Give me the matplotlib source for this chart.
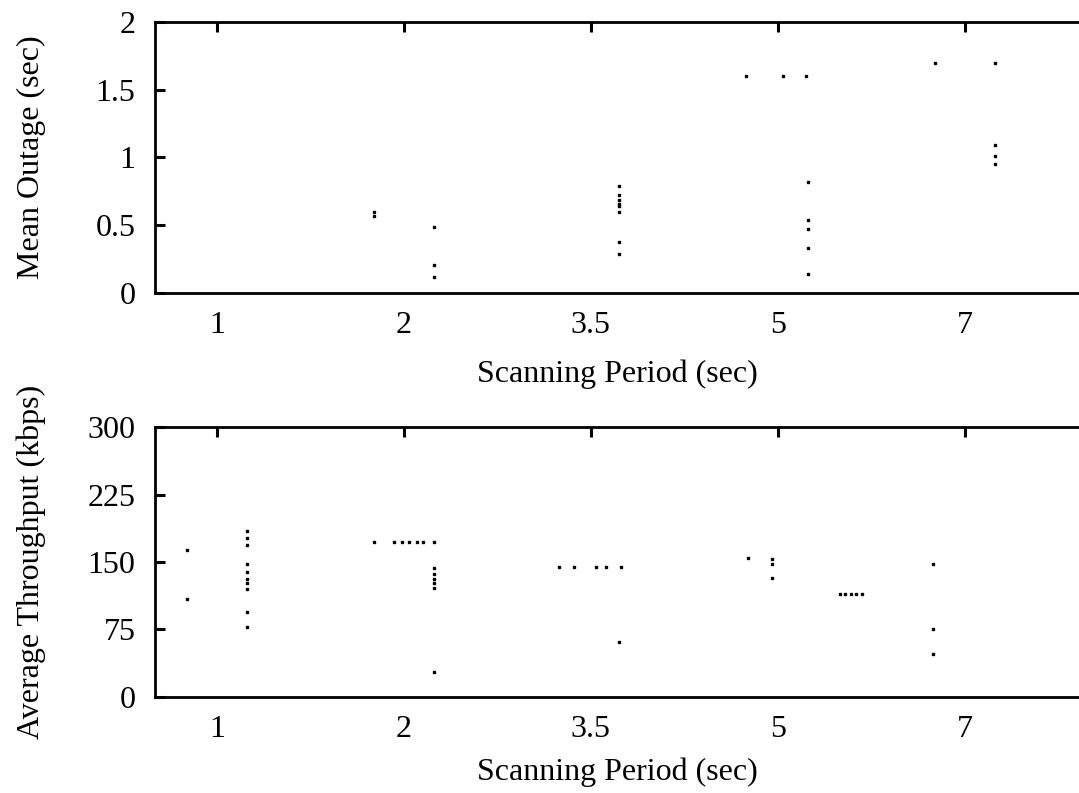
import matplotlib
matplotlib.use("Agg")
import matplotlib.pyplot as plt

plt.rcParams['font.family'] = ['Liberation Serif', 'DejaVu Serif']

# category labels on the x axis
periods = ['1', '2', '3.5', '5', '7']

# top panel: mean outage points (x in category units, y in sec)
outage_x = [0.84, 0.84, 1.16, 1.16, 1.16,
            2.15, 2.15, 2.15, 2.15, 2.15, 2.15, 2.15, 2.15,
            2.83, 3.03, 3.15,
            3.16, 3.16, 3.16, 3.16, 3.16,
            3.84, 4.16, 4.16, 4.16, 4.16]
outage_y = [0.60, 0.57, 0.49, 0.21, 0.12,
            0.79, 0.72, 0.69, 0.66, 0.64, 0.60, 0.38, 0.29,
            1.60, 1.60, 1.60,
            0.82, 0.54, 0.47, 0.33, 0.14,
            1.70, 1.70, 1.09, 1.01, 0.95]

# bottom panel: average throughput points (kbps)
thr_x = [-0.16, -0.16,
         0.16, 0.16, 0.16, 0.16, 0.16, 0.16, 0.16, 0.16, 0.16, 0.16,
         0.84, 0.95, 0.99, 1.03, 1.07, 1.10, 1.16,
         1.16, 1.16, 1.16, 1.16, 1.16, 1.16,
         1.83, 1.91, 2.03, 2.08, 2.16, 2.15,
         2.84, 2.97, 2.97, 2.97,
         3.33, 3.36, 3.39, 3.42, 3.45,
         3.83, 3.83, 3.83]
thr_y = [163, 109,
         184, 177, 169, 148, 139, 131, 127, 120, 94, 78,
         172, 172, 172, 172, 172, 172, 172,
         143, 137, 131, 127, 121, 28,
         144, 144, 144, 144, 144, 61,
         154, 153, 148, 132,
         114, 114, 114, 114, 114,
         148, 76, 48]

FS = 23

fig = plt.figure(figsize=(10.79, 7.93), dpi=100)
ax1 = fig.add_axes([0.1437, 0.6305, 0.8563, 0.3418])
ax2 = fig.add_axes([0.1437, 0.1211, 0.8563, 0.3404])

def style(ax, ymax, yticks, ylabel, xlabelpad):
    ax.set_xlim(-0.33, 4.61)
    ax.set_ylim(0, ymax)
    ax.set_xticks(range(len(periods)))
    ax.set_xticklabels(periods)
    ax.set_yticks(yticks)
    ax.set_yticklabels([f'{t:g}' for t in yticks])
    ax.tick_params(direction='in', length=7, width=2.2, labelsize=FS,
                   top=True, bottom=False, right=False)
    ax.tick_params(axis='x', pad=13)
    ax.tick_params(axis='y', pad=14)
    for s in ['left', 'bottom', 'top']:
        ax.spines[s].set_linewidth(2)
    ax.spines['right'].set_visible(False)
    ax.set_xlabel('Scanning Period (sec)', fontsize=FS, labelpad=xlabelpad)
    ax.set_ylabel(ylabel, fontsize=FS)
    ax.yaxis.set_label_coords(-0.118, 0.5)

ax1.plot(outage_x, outage_y, 's', color='black', markersize=2)
ax2.plot(thr_x, thr_y, 's', color='black', markersize=2)

style(ax1, 2, [0, 0.5, 1, 1.5, 2], 'Mean Outage (sec)', 14)
style(ax2, 300, [0, 75, 150, 225, 300], 'Average Throughput (kbps)', 10)

fig.savefig('out.png', dpi=100)
